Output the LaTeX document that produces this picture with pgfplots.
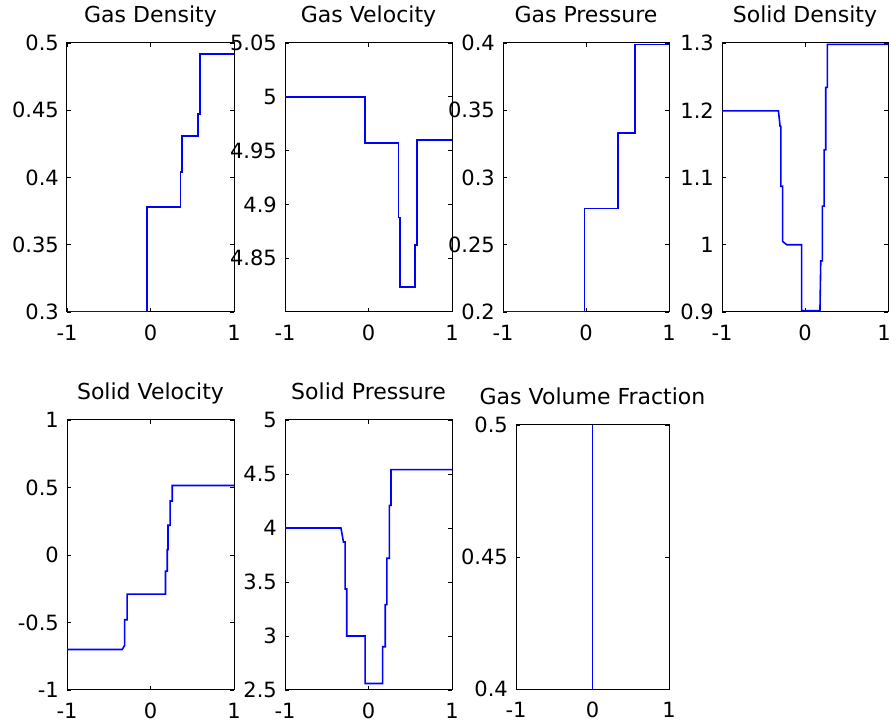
\documentclass[border=0pt]{standalone}
\usepackage{fontspec}
\setmainfont{DejaVu Sans}
\usepackage{pgfplots}
\pgfplotsset{compat=1.18}
\definecolor{mblue}{RGB}{0,0,255}
\pgfplotsset{
  mp/.style={
    scale only axis,
    width=167pt, height=269pt,
    anchor=south west,
    xmin=-1, xmax=1,
    xtick={-1,0,1}, xticklabels={-1,0,1},
    tick align=inside,
    major tick length=4pt,
    axis line style={black, line width=1pt},
    every tick/.style={black, line width=0.8pt},
    tick label style={font=\fontsize{21}{21}\selectfont, inner sep=0pt},
    xticklabel style={anchor=north, yshift=-13pt},
    yticklabel style={anchor=east, xshift=-8pt},
    title style={font=\fontsize{22}{22}\selectfont, anchor=base, at={(0.5,1)}, yshift=14pt, inner sep=0pt},
  },
  ln/.style={mblue, line width=1.6pt, no markers},
}
\begin{document}
\begin{tikzpicture}
\path[use as bounding box] (0pt,0pt) rectangle (891pt,725pt);
% Row 1
\begin{axis}[mp, at={(67pt,413pt)}, title={Gas Density},
  ymin=0.3, ymax=0.5, ytick={0.3,0.35,0.4,0.45,0.5}, yticklabels={0.3,0.35,0.4,0.45,0.5}]
\addplot[ln] coordinates {(-1,0.3) (-0.04,0.3) (-0.04,0.378) (0.36,0.378) (0.36,0.404) (0.38,0.404) (0.38,0.431) (0.57,0.431) (0.57,0.447) (0.59,0.447) (0.59,0.492) (1,0.492)};
\end{axis}
\begin{axis}[mp, at={(285pt,413pt)}, title={Gas Velocity},
  ymin=4.8, ymax=5.05, ytick={4.85,4.9,4.95,5,5.05}, yticklabels={4.85,4.9,4.95,5,5.05}]
\addplot[ln] coordinates {(-1,5.0) (-0.04,5.0) (-0.04,4.957) (0.36,4.957) (0.36,4.888) (0.38,4.888) (0.38,4.823) (0.56,4.823) (0.56,4.862) (0.58,4.862) (0.58,4.96) (1,4.96)};
\end{axis}
\begin{axis}[mp, at={(503pt,413pt)}, width=166pt, title={Gas Pressure},
  ymin=0.2, ymax=0.4, ytick={0.2,0.25,0.3,0.35,0.4}, yticklabels={0.2,0.25,0.3,0.35,0.4}]
\addplot[ln] coordinates {(-1,0.2) (-0.02,0.2) (-0.02,0.277) (0.385,0.277) (0.385,0.333) (0.59,0.333) (0.59,0.399) (1,0.399)};
\end{axis}
\begin{axis}[mp, at={(722pt,413pt)}, width=166pt, title={Solid Density},
  xticklabels={-1,0,{\kern-8pt 1}},
  ymin=0.9, ymax=1.3, ytick={0.9,1,1.1,1.2,1.3}, yticklabels={0.9,1,1.1,1.2,1.3}]
\addplot[ln] coordinates {(-1,1.199) (-0.32,1.199) (-0.30,1.176) (-0.29,1.176) (-0.29,1.087) (-0.27,1.087) (-0.27,1.005) (-0.22,1.0) (-0.04,1.0) (-0.04,0.902) (0.18,0.902) (0.19,0.976) (0.21,0.976) (0.21,1.0575) (0.23,1.0575) (0.23,1.141) (0.25,1.141) (0.25,1.234) (0.27,1.234) (0.27,1.298) (1,1.298)};
\end{axis}
% Row 2
\begin{axis}[mp, at={(67pt,35pt)}, height=270pt, title={Solid Velocity},
  ymin=-1, ymax=1, ytick={-1,-0.5,0,0.5,1}, yticklabels={-1,-0.5,0,0.5,1}]
\addplot[ln] coordinates {(-1,-0.7) (-0.34,-0.7) (-0.31,-0.67) (-0.31,-0.48) (-0.28,-0.48) (-0.28,-0.29) (0.18,-0.29) (0.18,-0.12) (0.20,-0.12) (0.20,0.04) (0.21,0.04) (0.21,0.22) (0.235,0.22) (0.235,0.40) (0.26,0.40) (0.26,0.515) (1,0.515)};
\end{axis}
\begin{axis}[mp, at={(285pt,35pt)}, height=270pt, title={Solid Pressure},
  ymin=2.5, ymax=5, ytick={2.5,3,3.5,4,4.5,5}, yticklabels={2.5,3,3.5,4,4.5,5}]
\addplot[ln] coordinates {(-1,4.0) (-0.33,4.0) (-0.30,3.87) (-0.28,3.87) (-0.28,3.435) (-0.26,3.435) (-0.26,3.0) (-0.04,3.0) (-0.04,2.56) (0.17,2.56) (0.17,2.90) (0.20,2.90) (0.20,3.29) (0.22,3.29) (0.22,3.72) (0.25,3.72) (0.25,4.21) (0.27,4.21) (0.27,4.54) (1,4.54)};
\end{axis}
\begin{axis}[mp, at={(516pt,36pt)}, width=153pt, height=264pt, title={Gas Volume Fraction},
  ymin=0.4, ymax=0.5, ytick={0.4,0.45,0.5}, yticklabels={0.4,0.45,0.5}]
\addplot[ln] coordinates {(0,0.4) (0,0.5)};
\end{axis}
\end{tikzpicture}
\end{document}
